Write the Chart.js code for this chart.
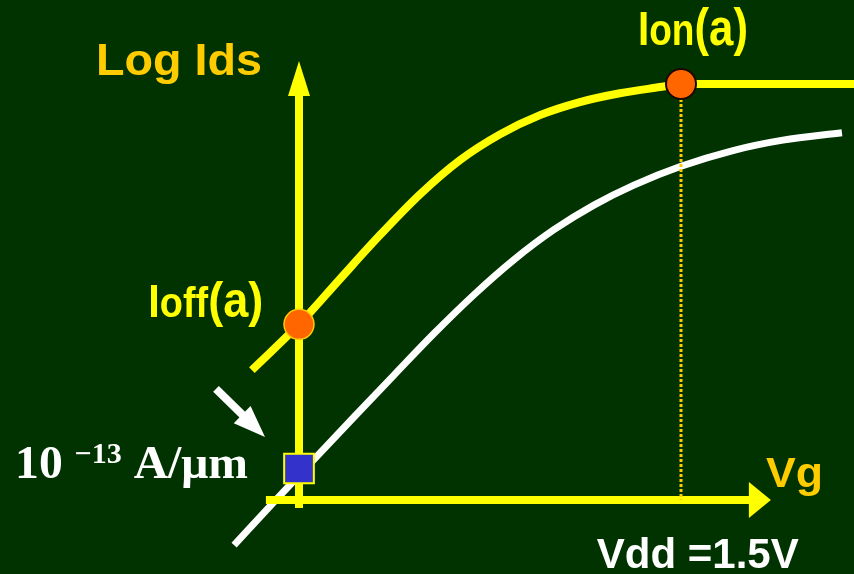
<!DOCTYPE html>
<html>
<head>
<meta charset="utf-8">
<style>
  html, body { margin: 0; padding: 0; background: #003300; overflow: hidden; }
  canvas { display: block; }
</style>
<script src="https://cdn.jsdelivr.net/npm/chart.js@4.4.1/dist/chart.umd.min.js"></script>
</head>
<body>
<canvas id="c" width="854" height="574"></canvas>
<script>
// Gate voltage (V) against log10 of drain current (A/µm)

// Device (a): subthreshold rise up to Vdd
const vgA      = [-0.185, 0.000, 0.161, 0.318, 0.475, 0.632, 0.789, 0.946, 1.103, 1.260, 1.418, 1.500];
const logIdsA  = [-10.44, -9.25, -8.07, -6.93, -5.87, -4.98, -4.31, -3.81, -3.47, -3.24, -3.08, -3.00];
// Device (a): saturated on-current beyond Vdd
const vgASat     = [1.50, 2.18];
const logIdsASat = [-3.00, -3.00];

// Reference device: shifted curve through the 10^-13 A/µm off-current
const vgB     = [-0.255, -0.098, 0.059, 0.216, 0.373, 0.530, 0.687, 0.844, 1.001, 1.158, 1.315, 1.500, 1.704, 1.900, 2.132];
const logIdsB = [-14.99, -13.87, -12.76, -11.66, -10.57, -9.49, -8.48, -7.57, -6.79, -6.15, -5.63, -5.14, -4.73, -4.46, -4.27];

// Operating points
const vdd       = 1.5;
const ionA      = -3.00;   // log10 Ion(a)
const ioffA     = -9.25;   // log10 Ioff(a)
const ioffSpec  = -13;     // log10 of 10^-13 A/µm

// Visible window of the plot, in volts and decades
const vgRange     = [-1.1741, 2.1793];
const logIdsRange = [-15.7438, -0.8153];

// Where the drawn axes sit, in the same units
const axisLevel   = -13.82;  // height of the Vg axis
const vgAxisStart = -0.13;
const vgAxisTip   = 1.853;
const idsAxisLow  = -14.03;
const idsAxisTip  = -2.40;

// Pointer arrow towards the 10^-13 marker
const pointerTail = [-0.326, -10.93];
const pointerTip  = [-0.1335, -12.18];

const pts = (xs, ys) => xs.map((x, i) => ({ x, y: ys[i] }));

const SANS  = '"Liberation Sans", Arial, sans-serif';
const SERIF = '"Liberation Serif", "Times New Roman", serif';

const labels = [
  { runs: [{ t: 'Log Ids', s: 45 }], at: [-0.797, -2.766], fit: 166, color: '#ffcc00', font: SANS },
  { runs: [{ t: 'I', s: 48 }, { t: 'on', s: 44 }, { t: '(a)', s: 52 }], at: [1.331, -1.986], fit: 110, color: '#ffff00', font: SANS },
  { runs: [{ t: 'I', s: 46 }, { t: 'off', s: 42 }, { t: '(a)', s: 50 }], at: [-0.592, -9.052], fit: 115, color: '#ffff00', font: SANS },
  { runs: [{ t: 'Vg', s: 42 }], at: [1.834, -13.473], fit: 57, color: '#ffcc00', font: SANS },
  { runs: [{ t: 'Vdd =1.5V', s: 42 }], at: [1.169, -15.596], fit: 202, color: '#ffffff', font: SANS },
  { runs: [{ t: '10 ', s: 46 }, { t: '\u221213', s: 29, rise: 15 }, { t: ' A/\u03bcm', s: 46 }], at: [-1.115, -13.255], fit: 233, color: '#ffffff', font: SERIF }
];

function drawRuns(ctx, lab, x, y) {
  let w = 0;
  lab.runs.forEach(r => {
    ctx.font = `bold ${r.s}px ${lab.font}`;
    r.w = ctx.measureText(r.t).width;
    w += r.w;
  });
  const sx = lab.fit ? lab.fit / w : 1;
  ctx.save();
  ctx.translate(x, y);
  ctx.scale(sx, 1);
  ctx.fillStyle = lab.color;
  ctx.textBaseline = 'alphabetic';
  ctx.textAlign = 'left';
  let cx = 0;
  lab.runs.forEach(r => {
    ctx.font = `bold ${r.s}px ${lab.font}`;
    ctx.fillText(r.t, cx, -(r.rise || 0));
    cx += r.w;
  });
  ctx.restore();
}

// Yellow axes with arrow heads, laid over the reference curve
const axesPlugin = {
  id: 'arrowAxes',
  afterDatasetDraw(chart, args) {
    if (args.index !== 0) return;
    const { ctx } = chart;
    const xs = chart.scales.x, ys = chart.scales.y;
    const X = v => xs.getPixelForValue(v), Y = v => ys.getPixelForValue(v);
    ctx.save();
    ctx.fillStyle = '#ffff00';
    ctx.strokeStyle = '#ffff00';
    ctx.lineCap = 'butt';

    // Vg axis
    const ay = Y(axisLevel);
    const tipX = X(vgAxisTip);
    ctx.lineWidth = 8;
    ctx.beginPath();
    ctx.moveTo(X(vgAxisStart), ay);
    ctx.lineTo(tipX - 20, ay);
    ctx.stroke();
    ctx.beginPath();
    ctx.moveTo(tipX, ay);
    ctx.lineTo(tipX - 22, ay - 18);
    ctx.lineTo(tipX - 22, ay + 18);
    ctx.closePath();
    ctx.fill();

    // Log Ids axis
    const ax = X(0);
    const tipY = Y(idsAxisTip);
    ctx.beginPath();
    ctx.moveTo(ax, Y(idsAxisLow));
    ctx.lineTo(ax, tipY + 33);
    ctx.stroke();
    ctx.beginPath();
    ctx.moveTo(ax, tipY);
    ctx.lineTo(ax - 11, tipY + 35);
    ctx.lineTo(ax + 11, tipY + 35);
    ctx.closePath();
    ctx.fill();
    ctx.restore();
  }
};

// Text labels and the white pointer arrow
const annotationPlugin = {
  id: 'annotations',
  afterDatasetsDraw(chart) {
    const { ctx } = chart;
    const xs = chart.scales.x, ys = chart.scales.y;
    const X = v => xs.getPixelForValue(v), Y = v => ys.getPixelForValue(v);

    // pointer arrow
    const x0 = X(pointerTail[0]), y0 = Y(pointerTail[1]);
    const x1 = X(pointerTip[0]),  y1 = Y(pointerTip[1]);
    const ang = Math.atan2(y1 - y0, x1 - x0);
    const headLen = 32, headHalf = 12;
    const bx = x1 - headLen * Math.cos(ang), by = y1 - headLen * Math.sin(ang);
    ctx.save();
    ctx.strokeStyle = '#ffffff';
    ctx.fillStyle = '#ffffff';
    ctx.lineWidth = 8;
    ctx.lineCap = 'butt';
    ctx.beginPath();
    ctx.moveTo(x0, y0);
    ctx.lineTo(bx + 2 * Math.cos(ang), by + 2 * Math.sin(ang));
    ctx.stroke();
    ctx.beginPath();
    ctx.moveTo(x1, y1);
    ctx.lineTo(bx + headHalf * Math.sin(ang), by - headHalf * Math.cos(ang));
    ctx.lineTo(bx - headHalf * Math.sin(ang), by + headHalf * Math.cos(ang));
    ctx.closePath();
    ctx.fill();
    ctx.restore();

    labels.forEach(lab => drawRuns(ctx, lab, X(lab.at[0]), Y(lab.at[1])));
  }
};

const line = {
  showLine: true,
  pointRadius: 0,
  pointHoverRadius: 0,
  cubicInterpolationMode: 'monotone',
  borderCapStyle: 'butt',
  borderJoinStyle: 'round',
  clip: false
};

new Chart(document.getElementById('c'), {
  type: 'scatter',
  data: {
    datasets: [
      Object.assign({}, line, {
        label: 'reference', data: pts(vgB, logIdsB),
        borderColor: '#ffffff', borderWidth: 7, order: 7
      }),
      Object.assign({}, line, {
        label: 'device a', data: pts(vgA, logIdsA),
        borderColor: '#ffff00', borderWidth: 8, order: 5
      }),
      Object.assign({}, line, {
        label: 'device a (saturation)', data: pts(vgASat, logIdsASat),
        borderColor: '#ffff00', borderWidth: 8, order: 5, cubicInterpolationMode: 'default', tension: 0
      }),
      Object.assign({}, line, {
        label: 'Vdd', data: [{ x: vdd, y: ionA }, { x: vdd, y: axisLevel }],
        borderColor: '#ffcc00', borderWidth: 3, borderDash: [3, 2], order: 4,
        cubicInterpolationMode: 'default', tension: 0
      }),
      {
        label: '10^-13 A/um', data: [{ x: 0, y: ioffSpec }],
        showLine: false, pointStyle: 'rect', pointRadius: 21, pointHoverRadius: 21,
        backgroundColor: '#3333cc', borderColor: '#ffff00', borderWidth: 2, order: 2, clip: false
      },
      {
        label: 'Ioff(a)', data: [{ x: 0, y: ioffA }],
        showLine: false, pointStyle: 'circle', pointRadius: 15, pointHoverRadius: 15,
        backgroundColor: '#ff6600', borderColor: '#ffcc00', borderWidth: 1.5, order: 1, clip: false
      },
      {
        label: 'Ion(a)', data: [{ x: vdd, y: ionA }],
        showLine: false, pointStyle: 'circle', pointRadius: 15, pointHoverRadius: 15,
        backgroundColor: '#ff6600', borderColor: '#1a0800', borderWidth: 2, order: 1, clip: false
      }
    ]
  },
  options: {
    responsive: false,
    animation: false,
    events: [],
    layout: { padding: 0, autoPadding: false },
    plugins: { legend: { display: false }, tooltip: { enabled: false } },
    scales: {
      x: { type: 'linear', min: vgRange[0], max: vgRange[1], display: false },
      y: { type: 'linear', min: logIdsRange[0], max: logIdsRange[1], display: false }
    }
  },
  plugins: [axesPlugin, annotationPlugin]
});
</script>
</body>
</html>
